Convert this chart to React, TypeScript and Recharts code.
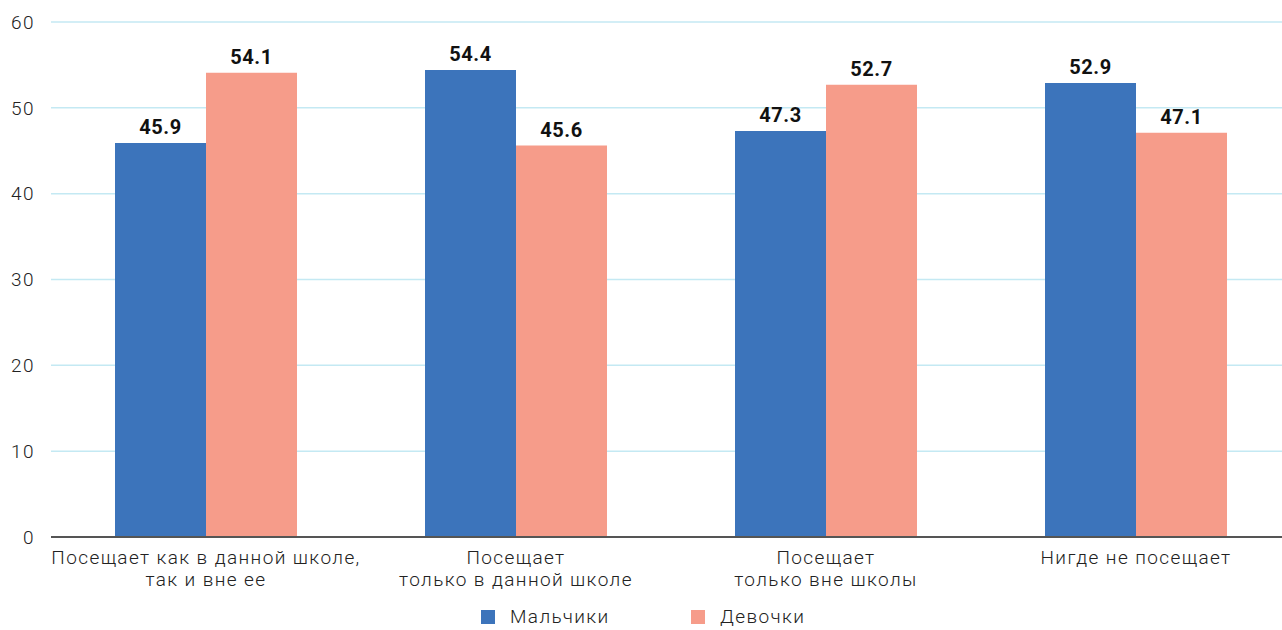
import React from "react";
import {
  BarChart,
  Bar,
  XAxis,
  YAxis,
  CartesianGrid,
  Legend,
  LabelList,
} from "recharts";

const categories = [
  "Посещает как в данной школе,\nтак и вне ее",
  "Посещает\nтолько в данной школе",
  "Посещает\nтолько вне школы",
  "Нигде не посещает",
];
const boys = [45.9, 54.4, 47.3, 52.9];
const girls = [54.1, 45.6, 52.7, 47.1];
const yTicks = [0, 10, 20, 30, 40, 50, 60];

const BLUE = "#3C74BB";
const PINK = "#F69C8A";
const FONT = "Roboto, 'Noto Sans', sans-serif";

const data = categories.map((name, i) => ({
  name,
  boys: boys[i],
  girls: girls[i],
}));

function CategoryTick({ x, y, payload }: any) {
  const lines = String(payload.value).split("\n");
  return (
    <text
      x={x}
      y={y + 19}
      textAnchor="middle"
      fontSize={19}
      fill="#222"
      fontFamily={FONT}
      fontWeight={300}
      letterSpacing={1.4}
    >
      {lines.map((l, i) => (
        <tspan key={i} x={x} dy={i === 0 ? 0 : 22}>
          {l}
        </tspan>
      ))}
    </text>
  );
}

function LegendContent() {
  const items = [
    { label: "Мальчики", color: BLUE, x: 481 },
    { label: "Девочки", color: PINK, x: 691 },
  ];
  return (
    <div style={{ position: "relative", height: 33, fontFamily: FONT }}>
      {items.map((it) => (
        <div
          key={it.label}
          style={{
            position: "absolute",
            left: it.x,
            top: 10,
            display: "flex",
            alignItems: "center",
            lineHeight: "20px",
          }}
        >
          <span
            style={{
              width: 14,
              height: 14,
              background: it.color,
              display: "inline-block",
              marginRight: 15,
            }}
          />
          <span
            style={{
              fontSize: 19,
              color: "#222",
              fontWeight: 300,
              letterSpacing: 1.4,
            }}
          >
            {it.label}
          </span>
        </div>
      ))}
    </div>
  );
}

export default function App() {
  return (
    <div
      style={{
        position: "absolute",
        left: 0,
        top: 0,
        width: 1282,
        height: 630,
        overflow: "hidden",
        background: "#fff",
      }}
    >
      <BarChart
        width={1291}
        height={630}
        data={data}
        margin={{ top: 22, right: 0, left: 0, bottom: 0 }}
        barGap={0}
      >
        <CartesianGrid vertical={false} stroke="#C4E9F3" strokeWidth={1.5} />
        <XAxis
          dataKey="name"
          tick={<CategoryTick />}
          tickLine={false}
          axisLine={{ stroke: "#555", strokeWidth: 2 }}
          height={60}
          interval={0}
        />
        <YAxis
          domain={[0, 60]}
          ticks={yTicks}
          width={51}
          tickLine={false}
          axisLine={false}
          tick={{
            fontSize: 19,
            fill: "#222",
            fontFamily: FONT,
            fontWeight: 300,
            letterSpacing: 1.5,
          }}
          tickMargin={10}
        />
        <Legend verticalAlign="bottom" height={33} content={<LegendContent />} />
        <Bar dataKey="boys" fill={BLUE} barSize={91} isAnimationActive={false}>
          <LabelList
            dataKey="boys"
            position="top"
            offset={9}
            formatter={(v: number) => v.toFixed(1)}
            style={{
              fontSize: 20,
              fontWeight: 700,
              fill: "#111",
              fontFamily: FONT,
              letterSpacing: 0.6,
            }}
          />
        </Bar>
        <Bar dataKey="girls" fill={PINK} barSize={91} isAnimationActive={false}>
          <LabelList
            dataKey="girls"
            position="top"
            offset={9}
            formatter={(v: number) => v.toFixed(1)}
            style={{
              fontSize: 20,
              fontWeight: 700,
              fill: "#111",
              fontFamily: FONT,
              letterSpacing: 0.6,
            }}
          />
        </Bar>
      </BarChart>
    </div>
  );
}
